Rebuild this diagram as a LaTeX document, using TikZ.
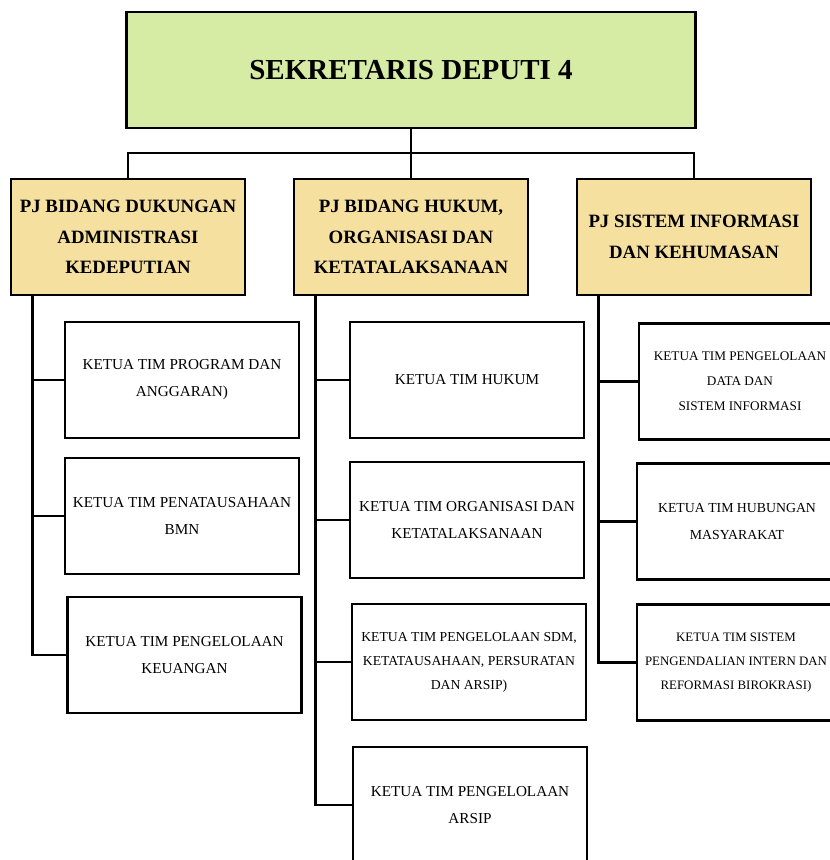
\documentclass[tikz,border=0pt]{standalone}
\usepackage{fontspec}
\setmainfont{Liberation Serif}
\usetikzlibrary{positioning}
\definecolor{headgreen}{RGB}{214,235,164}
\definecolor{pjtan}{RGB}{245,224,160}
\tikzset{x=1pt, y=-1pt, % one unit per pixel, y going down
box/.style={draw, rectangle, minimum width=234pt, minimum height=116pt, align=center, inner sep=2pt},
head/.style={box, fill=headgreen, minimum width=569pt, font=\bfseries\fontsize{29}{32}\selectfont},
pj/.style={box, fill=pjtan, font=\bfseries\fontsize{18.8}{30.5}\selectfont},
tim/.style={box, font=\fontsize{15.2}{27}\selectfont},
timsmall/.style={box, font=\fontsize{13.7}{24}\selectfont},
timtext/.style={align=center, inner sep=0pt, font=\fontsize{13.2}{25}\selectfont}, % text of the cut off boxes on the right
}

\begin{document}
\begin{tikzpicture}[line width=2.6pt]
  \useasboundingbox (0,0) rectangle (830,860);
  \clip (0,0) rectangle (830,860);

  \node[head] (sek) at (411,70) {SEKRETARIS DEPUTI 4};
  \node[pj] (pj1) at (128,237) {PJ BIDANG DUKUNGAN\\ADMINISTRASI\\KEDEPUTIAN};
  \node[pj, right=46.4pt of pj1] (pj2) {PJ BIDANG HUKUM,\\ORGANISASI DAN\\KETATALAKSANAAN};
  \node[pj, right=46.4pt of pj2] (pj3) {PJ SISTEM INFORMASI\\DAN KEHUMASAN};

  % first column
  \node[tim] (adm1) at (182,380) {KETUA TIM PROGRAM DAN\\ANGGARAN)};
  \node[tim, below=17.4pt of adm1] (adm2) {KETUA TIM PENATAUSAHAAN\\BMN};
  \node[tim, below=20.4pt of adm2, xshift=2.5pt] (adm3) {KETUA TIM PENGELOLAAN\\KEUANGAN};

  % second column
  \node[tim] (huk1) at (467,380) {KETUA TIM HUKUM};
  \node[tim, below=21.4pt of huk1] (huk2) {KETUA TIM ORGANISASI DAN\\KETATALAKSANAAN};
  \node[timsmall, below=23.4pt of huk2, xshift=2pt] (huk3) {KETUA TIM PENGELOLAAN SDM,\\KETATAUSAHAAN, PERSURATAN\\DAN ARSIP)};
  \node[tim, below=24.4pt of huk3, xshift=1pt] (huk4) {KETUA TIM PENGELOLAAN\\ARSIP};

  % third column, boxes run past the right edge
  \node[box] (inf1) at (756,381.5) {};
  \node[box, below=21.4pt of inf1, xshift=-2pt] (inf2) {};
  \node[box, below=22.4pt of inf2] (inf3) {};
  \node[timtext] (inf1t) at ([xshift=-16pt]inf1.center) {KETUA TIM PENGELOLAAN\\DATA DAN\\SISTEM INFORMASI};
  \node[timtext, font=\fontsize{13.8}{27}\selectfont] (inf2t) at ([xshift=-17pt]inf2.center) {KETUA TIM HUBUNGAN\\MASYARAKAT};
  \node[timtext, font=\fontsize{12.9}{24}\selectfont] (inf3t) at ([xshift=-18pt]inf3.center) {KETUA TIM SISTEM\\PENGENDALIAN INTERN DAN\\REFORMASI BIROKRASI)};

  \coordinate (bus) at (411,153);
  \coordinate (t1) at ([xshift=23pt]pj1.south west);
  \coordinate (t2) at ([xshift=23pt]pj2.south west);
  \coordinate (t3) at ([xshift=23pt]pj3.south west);

  \draw (sek) -- (pj2);
  \draw (pj1.north) |- (bus) -| (pj3.north);
  \draw (t1) |- (adm1.west) (t1) |- (adm2.west) (t1) |- (adm3.west);
  \draw (t2) |- (huk1.west) (t2) |- (huk2.west) (t2) |- (huk3.west) (t2) |- (huk4.west);
  \draw (t3) |- (inf1.west) (t3) |- (inf2.west) (t3) |- (inf3.west);
\end{tikzpicture}
\end{document}
